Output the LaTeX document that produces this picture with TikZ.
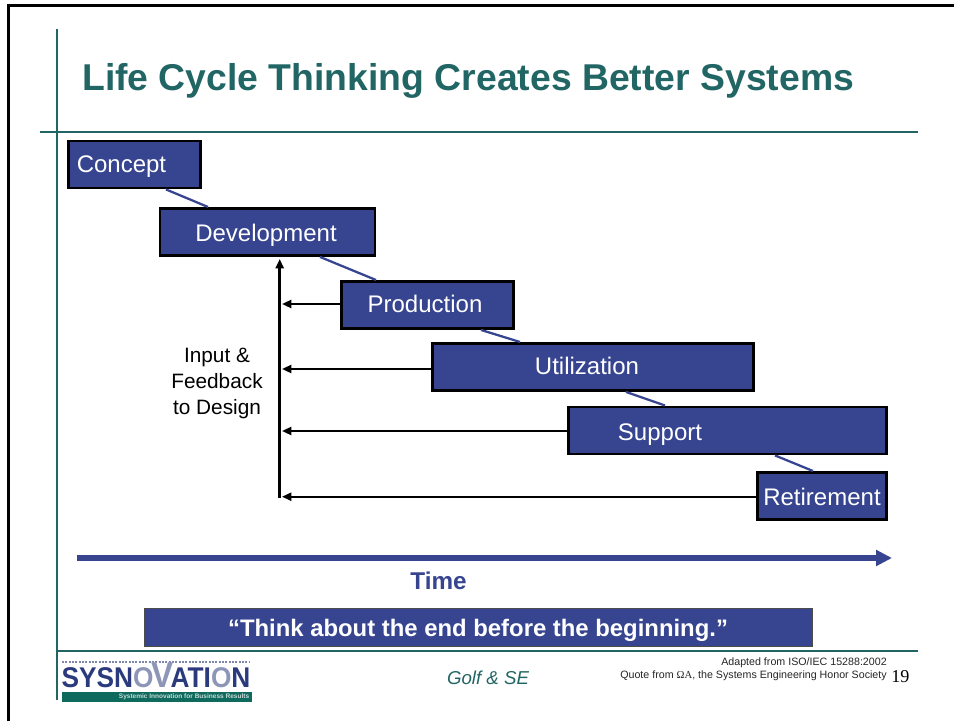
\documentclass[tikz,border=0pt]{standalone}
\usepackage{fontspec}
\setmainfont{Liberation Sans}
\newfontfamily\serifnum{Liberation Serif}
\usetikzlibrary{arrows.meta}
\definecolor{teal1}{HTML}{216664}
\definecolor{navy1}{HTML}{374590}
\definecolor{logoblue}{HTML}{2A3A7C}
\definecolor{logogrey}{HTML}{8E96B8}
\definecolor{logobar}{HTML}{0F6A5E}
\tikzset{
  x=0.75pt,y=-0.75pt,
  phase/.style={draw=black,line width=2.2pt,fill=navy1,inner sep=0pt,anchor=north west,minimum height=47*0.75pt},
  phasetext/.style={text=white,font=\fontsize{18}{20}\selectfont,inner sep=0pt},
  rule/.style={draw=teal1,line width=1.5pt},
  link/.style={draw=navy1,line width=1.7pt},
  fbtip/.style={-{Triangle[length=7pt,width=6pt]}},
  fb/.style={draw=black,line width=1.6pt,fbtip},
  spine/.style={draw=black,line width=2.1pt,fbtip},
}
\begin{document}
\begin{tikzpicture}
\useasboundingbox (0,0) rectangle (954,721);
\fill[white] (0,0) rectangle (954,721);
\coordinate (bl) at (8.3,721); \coordinate (bc) at (8.3,5.5); \coordinate (br) at (954,5.5);
\draw[black,line width=1.8pt] (bl) -- (bc) -- (br);
\coordinate (vt) at (57,29); \coordinate (vb) at (57,700);
\coordinate (hl) at (40,131.7); \coordinate (hr) at (918,131.7);
\coordinate (fl) at (57,651); \coordinate (fr) at (918,651);
\draw[rule] (vt) -- (vb);
\draw[rule] (hl) -- (hr);
\draw[rule] (fl) -- (fr);
\node[anchor=base west,text=teal1,font=\bfseries\fontsize{28}{30}\selectfont,inner sep=0pt] (title) at (82,90) {Life Cycle Thinking Creates Better Systems};
%
\node[phase,minimum width=132*0.75pt] (concept) at (67,139.5) {};
\node[phase,minimum width=215*0.75pt] (dev) at (158.5,207) {};
\node[phase,minimum width=172*0.75pt] (prod) at (340,280) {};
\node[phase,minimum width=321*0.75pt] (util) at (431,342) {};
\node[phase,minimum width=318*0.75pt] (supp) at (567,405.5) {};
\node[phase,minimum width=129*0.75pt] (reti) at (756,471) {};
\node[phasetext,anchor=base west] (tconcept) at (76.5,172) {Concept};
\node[phasetext,anchor=base] (tdev) at (266,241) {Development};
\node[phasetext,anchor=base] (tprod) at (425,312) {Production};
\node[phasetext,anchor=base] (tutil) at (587,374) {Utilization};
\node[phasetext,anchor=base] (tsupp) at (660,440) {Support};
\node[phasetext,anchor=base] (treti) at (822,505) {Retirement};
\draw[link] (concept.south -| 166,0) -- (dev.north -| 208,0);
\draw[link] (dev.south -| 320,0) -- (prod.north -| 376,0);
\draw[link] (prod.south -| 481,0) -- (util.north -| 520,0);
\draw[link] (util.south -| 626,0) -- (supp.north -| 665,0);
\draw[link] (supp.south -| 775,0) -- (reti.north -| 813,0);
%
\coordinate (spinebot) at (279.7,498);
\coordinate (spinetop) at (279.7,259);
\draw[spine] (spinebot) -- (spinetop);
\draw[fb] (prod.west |- 0,304) -- (282,304);
\draw[fb] (util.west |- 0,369) -- (282,369);
\draw[fb] (supp.west |- 0,431) -- (282,431);
\draw[fb] (reti.west |- 0,496.7) -- (282,496.7);
\node[align=center,font=\fontsize{15.6}{19.5}\selectfont,inner sep=0pt] (fbl) at (217,383.5) {Input \&\\Feedback\\to Design};
%
\coordinate (t0) at (76.5,558); \coordinate (t1) at (892,558);
\draw[navy1,line width=4pt,-{Triangle[length=12pt,width=11.5pt]}] (t0) -- (t1);
\node[text=navy1,font=\bfseries\fontsize{18.2}{20}\selectfont,inner sep=0pt,anchor=base] (time) at (438.5,589) {Time};
\node[draw=black!70,line width=0.8pt,fill=navy1,minimum width=667.5*0.75pt,minimum height=38.5*0.75pt,inner sep=0pt,anchor=north west] (quote) at (144,607.5) {};
\node[text=white,font=\bfseries\fontsize{17.9}{20}\selectfont,anchor=base,inner sep=0pt] (tq) at (478,636) {“Think about the end before the beginning.”};
%
\coordinate (dl) at (62,661.5); \coordinate (dr) at (249,661.5);
\draw[densely dotted,draw=logoblue!60,line width=1.5pt] (dl) -- (dr);
\node[anchor=base,font=\bfseries\fontsize{21.4}{22}\selectfont,inner sep=0pt] (logo) at (156,687) {\scalebox{0.92}[1]{\color{logoblue}SYSN{\color{logogrey}O}\kern-1.5pt{\color{logogrey}\fontsize{27}{27}\selectfont V}\kern-2.5pt ATI{\color{logogrey}O}N}};
\node[fill=logobar,minimum width=189.5*0.75pt,minimum height=10.3*0.75pt,inner sep=0pt,anchor=north west] (bar) at (62,691.7) {};
\node[text=white!75!teal1,font=\bfseries\fontsize{4.9}{5}\selectfont,anchor=east,inner sep=0pt] (bart) at (249.5,696.8) {Systemic Innovation for Business Results};
\node[anchor=base,text=teal1,font=\itshape\fontsize{14}{16}\selectfont,inner sep=0pt] (golf) at (488,684) {Golf \& SE};
\node[anchor=base east,font=\fontsize{8}{10}\selectfont,inner sep=0pt,text=black!85] (ad) at (887,665) {Adapted from ISO/IEC 15288:2002};
\node[anchor=base east,font=\fontsize{8}{10}\selectfont,inner sep=0pt,text=black!85] (qu) at (887,678) {Quote from {\serifnum ΩΑ}, the Systems Engineering Honor Society};
\node[anchor=base west,font=\serifnum\fontsize{13.6}{16}\selectfont,inner sep=0pt] (num) at (891,682.7) {19};
\end{tikzpicture}
\end{document}
